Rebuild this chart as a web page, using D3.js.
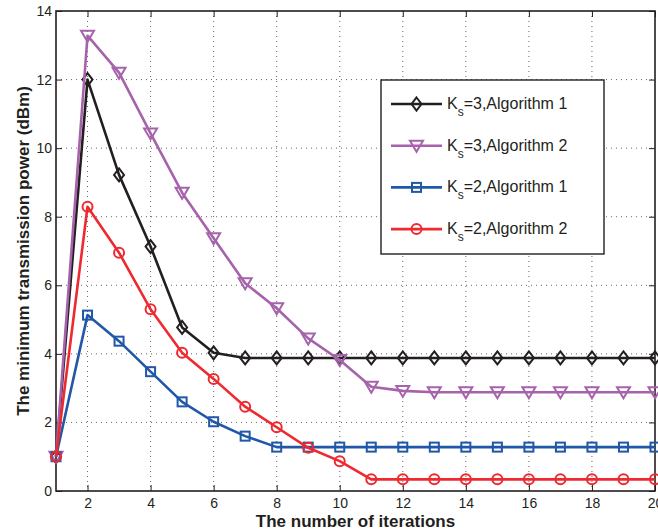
<!DOCTYPE html>
<html>
<head>
<meta charset="utf-8">
<script src="https://cdn.jsdelivr.net/npm/d3@7"></script>
<style>
  html, body { margin: 0; padding: 0; background: #fff; }
  svg { display: block; font-family: "Liberation Sans", Arial, Helvetica, sans-serif; }
</style>
</head>
<body>
<svg id="chart" width="658" height="531"></svg>
<script>
// ---- data ----
const iterations = [1, 2, 3, 4, 5, 6, 7, 8, 9, 10, 11, 12, 13, 14, 15, 16, 17, 18, 19, 20];
const ks3Alg1 = [1.0, 12.0, 9.22, 7.13, 4.77, 4.03, 3.88, 3.88, 3.88, 3.88, 3.88, 3.88, 3.88, 3.88, 3.88, 3.88, 3.88, 3.88, 3.88, 3.88];
const ks3Alg2 = [1.0, 13.28, 12.2, 10.43, 8.7, 7.37, 6.06, 5.33, 4.45, 3.82, 3.04, 2.92, 2.88, 2.88, 2.88, 2.88, 2.88, 2.88, 2.88, 2.88];
const ks2Alg1 = [1.0, 5.13, 4.37, 3.48, 2.6, 2.02, 1.6, 1.28, 1.28, 1.28, 1.28, 1.28, 1.28, 1.28, 1.28, 1.28, 1.28, 1.28, 1.28, 1.28];
const ks2Alg2 = [1.0, 8.29, 6.95, 5.3, 4.03, 3.27, 2.46, 1.86, 1.26, 0.87, 0.34, 0.34, 0.34, 0.34, 0.34, 0.34, 0.34, 0.34, 0.34, 0.34];
const seriesNames = ["3,Algorithm 1", "3,Algorithm 2", "2,Algorithm 1", "2,Algorithm 2"];
const xTicks = [2, 4, 6, 8, 10, 12, 14, 16, 18, 20];
const yTicks = [0, 2, 4, 6, 8, 10, 12, 14];
const xTitle = "The number of iterations";
const yTitle = "The minimum transmission power (dBm)";

// ---- styles ----
const series = [
  { name: seriesNames[0], values: ks3Alg1, color: "#231f20", marker: "diamond" },
  { name: seriesNames[1], values: ks3Alg2, color: "#a662ab", marker: "triangle" },
  { name: seriesNames[2], values: ks2Alg1, color: "#2157a7", marker: "square" },
  { name: seriesNames[3], values: ks2Alg2, color: "#ee2a30", marker: "circle" }
];

const svg = d3.select("#chart");
const L = 56, R = 655, T = 11, B = 491;

const x = d3.scaleLinear().domain([1, 20]).range([L, R]);
const y = d3.scaleLinear().domain([0, 14]).range([B, T]);

// grid
const grid = svg.append("g");
grid.selectAll("line.gx").data(xTicks.filter(d => d < 20)).enter().append("line")
  .attr("x1", d => x(d)).attr("x2", d => x(d)).attr("y1", T).attr("y2", B)
  .attr("stroke", "#666").attr("stroke-width", 1).attr("stroke-dasharray", "1,4");
grid.selectAll("line.gy").data(yTicks.filter(d => d > 0 && d < 14)).enter().append("line")
  .attr("x1", L).attr("x2", R).attr("y1", d => y(d)).attr("y2", d => y(d))
  .attr("stroke", "#666").attr("stroke-width", 1).attr("stroke-dasharray", "1,4");

// axes
const axColor = "#231f20";
const xAxis = d3.axisBottom(x).tickValues(xTicks).tickSize(-6).tickPadding(10).tickFormat(d3.format("d"));
const yAxis = d3.axisLeft(y).tickValues(yTicks).tickSize(-6).tickPadding(10).tickFormat(d3.format("d"));
const xTop = d3.axisTop(x).tickValues(xTicks).tickSize(-6).tickFormat("");
const yRight = d3.axisRight(y).tickValues(yTicks).tickSize(-6).tickFormat("");

function styleAxis(g) {
  g.select(".domain").remove();
  g.selectAll(".tick line").attr("stroke", axColor).attr("stroke-width", 1);
  g.selectAll(".tick text").attr("fill", "#231f20").style("font-size", "14px")
   .style("font-family", "'Liberation Sans', Arial, sans-serif");
}
svg.append("g").attr("transform", `translate(0,${B})`).call(xAxis).call(styleAxis)
  .selectAll(".tick text").attr("dy", "0.71em").attr("y", 7);
svg.append("g").attr("transform", `translate(${L},0)`).call(yAxis).call(styleAxis)
  .selectAll(".tick text").attr("x", -4);
svg.append("g").attr("transform", `translate(0,${T})`).call(xTop).call(styleAxis);
svg.append("g").attr("transform", `translate(${R},0)`).call(yRight).call(styleAxis);

// box
svg.append("rect").attr("x", L).attr("y", T).attr("width", R - L).attr("height", B - T)
  .attr("fill", "none").attr("stroke", axColor).attr("stroke-width", 1.6);

// markers
function drawMarker(g, type, cx, cy, color) {
  const sw = 2;
  if (type === "diamond") {
    g.append("path").attr("d", `M${cx},${cy - 6.5}L${cx + 5},${cy}L${cx},${cy + 6.5}L${cx - 5},${cy}Z`)
      .attr("fill", "none").attr("stroke", color).attr("stroke-width", sw);
  } else if (type === "triangle") {
    g.append("path").attr("d", `M${cx - 6.5},${cy - 5}L${cx + 6.5},${cy - 5}L${cx},${cy + 6}Z`)
      .attr("fill", "none").attr("stroke", color).attr("stroke-width", sw);
  } else if (type === "square") {
    g.append("rect").attr("x", cx - 4.5).attr("y", cy - 4.5).attr("width", 9).attr("height", 9)
      .attr("fill", "none").attr("stroke", color).attr("stroke-width", sw);
  } else {
    g.append("circle").attr("cx", cx).attr("cy", cy).attr("r", 5)
      .attr("fill", "none").attr("stroke", color).attr("stroke-width", sw);
  }
}

const line = d3.line().x((d, i) => x(iterations[i])).y(d => y(d));
series.forEach(s => {
  const g = svg.append("g");
  g.append("path").datum(s.values).attr("d", line)
    .attr("fill", "none").attr("stroke", s.color).attr("stroke-width", 2.6).attr("stroke-linejoin", "round");
  s.values.forEach((v, i) => drawMarker(g, s.marker, x(iterations[i]), y(v), s.color));
});

// legend
const lg = svg.append("g");
lg.append("rect").attr("x", 381).attr("y", 80).attr("width", 223).attr("height", 174)
  .attr("fill", "#fff").attr("stroke", axColor).attr("stroke-width", 1.4);
series.forEach((s, i) => {
  const ly = 104 + i * 41.7;
  lg.append("line").attr("x1", 391).attr("x2", 442).attr("y1", ly).attr("y2", ly)
    .attr("stroke", s.color).attr("stroke-width", 2.6);
  drawMarker(lg, s.marker, 416.5, ly, s.color);
  const t = lg.append("text").attr("x", 447).attr("y", ly + 5)
    .attr("fill", "#231f20").style("font-size", "16px");
  t.append("tspan").text("K");
  t.append("tspan").attr("dy", 7).style("font-size", "12px").text("s");
  t.append("tspan").attr("dy", -7).text("=" + s.name);
});

// titles
svg.append("text").attr("x", (L + R) / 2).attr("y", 527).attr("text-anchor", "middle")
  .style("font-size", "17px").style("font-weight", "bold").attr("fill", "#231f20").text(xTitle);
svg.append("text").attr("transform", `translate(29,${(T + B) / 2}) rotate(-90)`).attr("text-anchor", "middle")
  .style("font-size", "17px").style("font-weight", "bold").attr("fill", "#231f20").text(yTitle);
</script>
</body>
</html>
